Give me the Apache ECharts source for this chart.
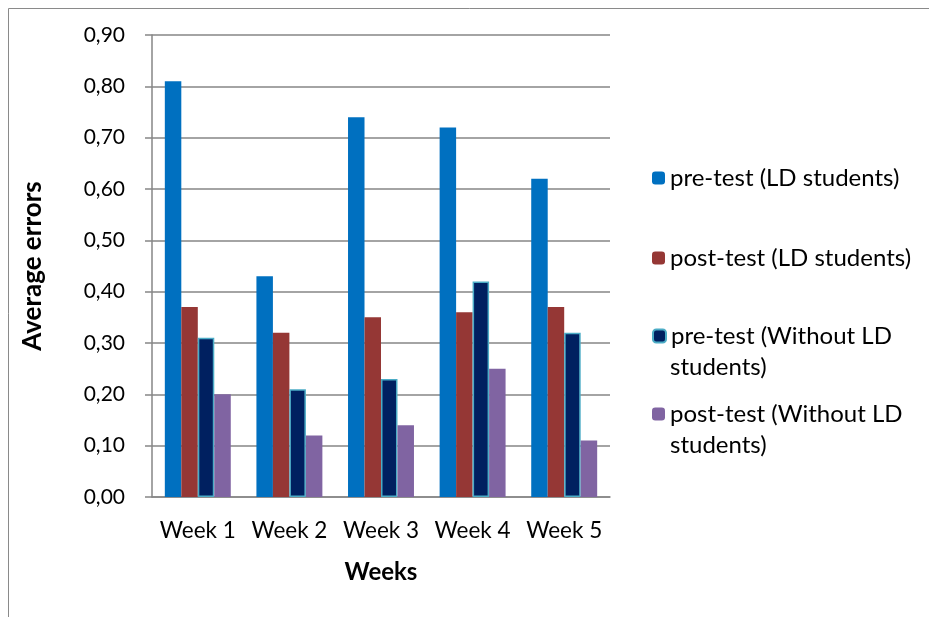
<!DOCTYPE html>
<html>
<head>
<meta charset="utf-8">
<script src="https://cdn.jsdelivr.net/npm/echarts@6/dist/echarts.min.js"></script>
<style>html,body{margin:0;padding:0;background:#fff}#c{width:929px;height:617px}</style>
</head>
<body>
<div id="c"></div>
<script>
const categories = ['Week 1', 'Week 2', 'Week 3', 'Week 4', 'Week 5'];
const preLD = [0.81, 0.43, 0.74, 0.72, 0.62];
const postLD = [0.37, 0.32, 0.35, 0.36, 0.37];
const preNoLD = [0.31, 0.21, 0.23, 0.42, 0.32];
const postNoLD = [0.20, 0.12, 0.14, 0.25, 0.11];
const seriesNames = ['pre-test (LD students)', 'post-test (LD students)', 'pre-test (Without LD students)', 'post-test (Without LD students)'];
const legendFirstLines = ['pre-test (LD students)', 'post-test (LD students)', 'pre-test (Without LD', 'post-test (Without LD'];
const legendSecondLines = ['', '', 'students)', 'students)'];
const yTicks = { min: 0, max: 0.9, interval: 0.1 };

const FONT = 'Lato';
const chart = echarts.init(document.getElementById('c'));
const legendCenters = [178, 258, 336, 414];
const colors = ['#0070C0', '#953735', '#002060', '#8064A2'];
const datas = [preLD, postLD, preNoLD, postNoLD];

const graphics = [{ type: 'rect', shape: { x: 8.5, y: 8.5, width: 1000, height: 1000 }, style: { fill: 'none', stroke: '#8a8a8a', lineWidth: 1 } }];
legendSecondLines.forEach((t, i) => {
  if (t) graphics.push({ type: 'text', left: 670, top: legendCenters[i] + 31 - 15,
    style: { text: t, fontFamily: FONT, fontSize: 24, fill: '#000', lineHeight: 30, verticalAlign: 'top' } });
});

chart.setOption({
  animation: false,
  graphic: graphics,
  grid: { left: 152, right: 319, top: 35, bottom: 120, containLabel: false },
  legend: seriesNames.map((n, i) => ({
    data: [n], left: 647, top: legendCenters[i] - 20, orient: 'vertical',
    itemWidth: 13, itemHeight: 13, itemGap: 0,
    formatter: () => legendFirstLines[i],
    textStyle: { fontFamily: FONT, fontSize: 24, color: '#000', lineHeight: 30 }
  })),
  xAxis: {
    type: 'category', data: categories,
    axisLine: { lineStyle: { color: '#868686', width: 1.5 } },
    axisTick: { show: false },
    axisLabel: { fontFamily: FONT, fontSize: 22.5, color: '#000', margin: 22, interval: 0 },
    name: 'Weeks', nameLocation: 'middle', nameGap: 63,
    nameTextStyle: { fontFamily: FONT, fontSize: 24, fontWeight: 'bold', color: '#000' }
  },
  yAxis: {
    type: 'value', min: yTicks.min, max: yTicks.max, interval: yTicks.interval,
    axisLine: { show: true, lineStyle: { color: '#868686', width: 1.5 } },
    axisTick: { show: true, length: 7, lineStyle: { color: '#868686', width: 1.5 } },
    splitLine: { lineStyle: { color: '#868686', width: 1.5 } },
    axisLabel: { fontFamily: FONT, fontSize: 21, color: '#000', margin: 27, formatter: v => v.toFixed(2).replace('.', ',') },
    name: 'Average errors', nameLocation: 'middle', nameGap: 106, nameRotate: 90,
    nameTextStyle: { fontFamily: FONT, fontSize: 26, fontWeight: 'bold', color: '#000' }
  },
  series: seriesNames.map((n, i) => ({
    name: n, type: 'bar', data: datas[i],
    barGap: '0%', barCategoryGap: '28%',
    itemStyle: i === 2 ? { color: colors[i], borderColor: '#4BACC6', borderWidth: 1.5 } : { color: colors[i] }
  }))
});
</script>
</body>
</html>
